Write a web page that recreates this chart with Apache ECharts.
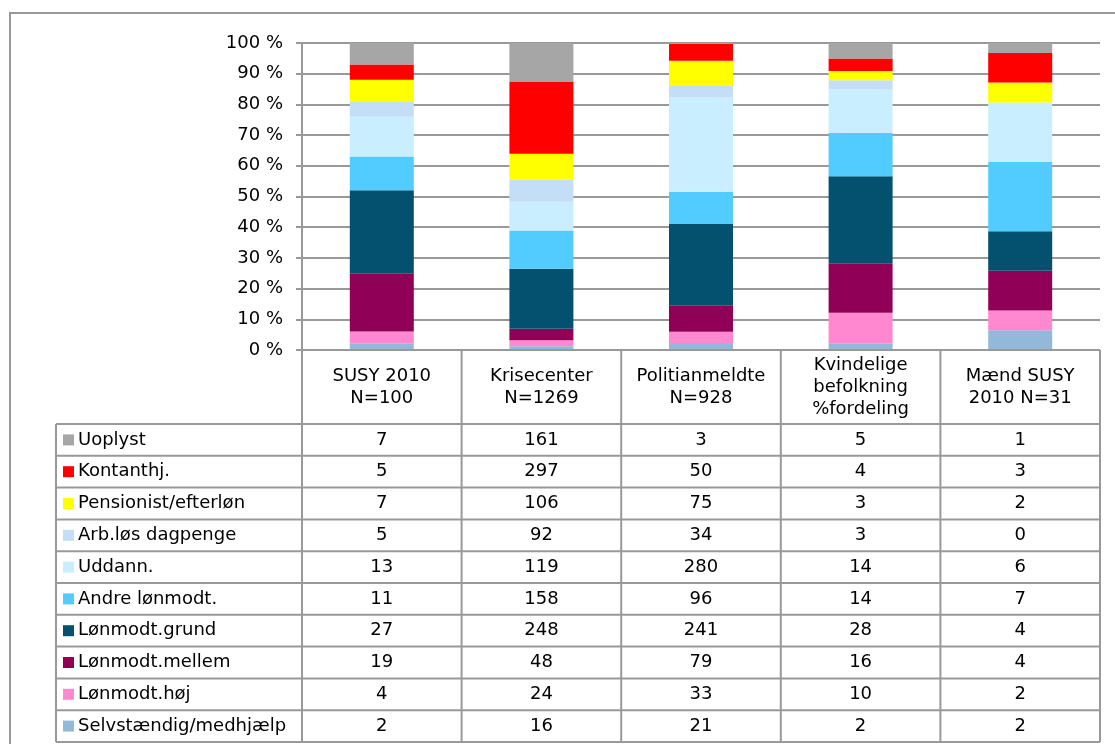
<!DOCTYPE html>
<html>
<head>
<meta charset="utf-8">
<script src="https://cdn.jsdelivr.net/npm/echarts@6/dist/echarts.min.js"></script>
<style>
  html, body { margin: 0; padding: 0; background: #fff; }
  #chart { width: 1115px; height: 744px; }
</style>
</head>
<body>
<div id="chart"></div>
<script>
// kategorier (kolonner)
const categories = ['SUSY 2010\nN=100', 'Krisecenter\nN=1269', 'Politianmeldte\nN=928', 'Kvindelige\nbefolkning\n%fordeling', 'Mænd SUSY\n2010 N=31']

// serier, nederst i stakken først
const seriesNames = ['Selvstændig/medhjælp', 'Lønmodt.høj', 'Lønmodt.mellem', 'Lønmodt.grund', 'Andre lønmodt.', 'Uddann.', 'Arb.løs dagpenge', 'Pensionist/efterløn', 'Kontanthj.', 'Uoplyst']
const seriesColors = ['#93b9da', '#ff88d1', '#910057', '#03506f', '#52ccff', '#c8eeff', '#c4def7', '#ffff00', '#ff0000', '#a6a6a6']

// antal pr. kolonne
const selvstaendig = [2, 16, 21, 2, 2]
const lonHoj = [4, 24, 33, 10, 2]
const lonMellem = [19, 48, 79, 16, 4]
const lonGrund = [27, 248, 241, 28, 4]
const andreLon = [11, 158, 96, 14, 7]
const uddann = [13, 119, 280, 14, 6]
const arbLos = [5, 92, 34, 3, 0]
const pensionist = [7, 106, 75, 3, 2]
const kontanthj = [5, 297, 50, 4, 3]
const uoplyst = [7, 161, 3, 5, 1]

const counts = [selvstaendig, lonHoj, lonMellem, lonGrund, andreLon, uddann, arbLos, pensionist, kontanthj, uoplyst]

const yTicks = [0, 10, 20, 30, 40, 50, 60, 70, 80, 90, 100]

// 100% stablet: andel af kolonnens total
const totals = categories.map((c, i) => counts.reduce((s, arr) => s + arr[i], 0))

const FONT = '"DejaVu Sans", Verdana, sans-serif'
const LINE = '#999'
const gridLeft = 302
const gridRight = 1100
const gridTop = 43
const axisY = 350
const tableTop = 424
const tableBottom = 742
const tableLeft = 56
const rowH = (tableBottom - tableTop) / seriesNames.length
const colW = (gridRight - gridLeft) / categories.length

const graphic = []
// ydre ramme
graphic.push({ type: 'rect', shape: { x: 10, y: 13, width: 1130, height: 760 }, style: { fill: 'none', stroke: LINE, lineWidth: 2 }, silent: true })

function line(x1, y1, x2, y2) {
  graphic.push({ type: 'line', shape: { x1, y1, x2, y2 }, style: { stroke: LINE, lineWidth: 2 }, z: 10, silent: true })
}

// tabel: lodrette linjer
line(tableLeft, tableTop, tableLeft, tableBottom)
for (let i = 0; i <= categories.length; i++) {
  const x = gridLeft + i * colW
  line(x, axisY, x, tableBottom)
}
// vandrette linjer
line(gridLeft, axisY, gridRight, axisY)
for (let r = 0; r <= seriesNames.length; r++) {
  const y = tableTop + r * rowH
  line(tableLeft, y, gridRight, y)
}

// kolonneoverskrifter
categories.forEach((c, i) => {
  graphic.push({
    type: 'text', x: gridLeft + (i + 0.5) * colW, y: (axisY + tableTop) / 2,
    style: { text: c, font: '18px ' + FONT, fill: '#000', align: 'center', verticalAlign: 'middle', lineHeight: 22 }
  })
})

// rækker: Uoplyst øverst
const rowOrder = seriesNames.map((n, i) => i).reverse()
rowOrder.forEach((si, r) => {
  const cy = tableTop + (r + 0.5) * rowH
  graphic.push({ type: 'rect', shape: { x: 63, y: cy - 5.5, width: 11, height: 11 }, style: { fill: seriesColors[si] } })
  graphic.push({
    type: 'text', x: 78, y: cy,
    style: { text: seriesNames[si], font: '18px ' + FONT, fill: '#000', align: 'left', verticalAlign: 'middle' }
  })
  counts[si].forEach((v, ci) => {
    graphic.push({
      type: 'text', x: gridLeft + (ci + 0.5) * colW, y: cy,
      style: { text: String(v), font: '18px ' + FONT, fill: '#000', align: 'center', verticalAlign: 'middle' }
    })
  })
})

const chart = echarts.init(document.getElementById('chart'))
chart.setOption({
  animation: false,
  backgroundColor: '#fff',
  grid: {
    left: gridLeft,
    right: 1115 - gridRight,
    top: gridTop,
    bottom: 744 - axisY
  },
  xAxis: {
    type: 'category',
    data: categories,
    axisLine: { show: false },
    axisTick: { show: false },
    axisLabel: { show: false }
  },
  yAxis: {
    type: 'value',
    min: yTicks[0],
    max: yTicks[yTicks.length - 1],
    interval: 10,
    axisLine: { show: true, lineStyle: { color: LINE, width: 2 } },
    axisTick: { show: true, length: 6, lineStyle: { color: LINE, width: 2 } },
    axisLabel: { formatter: '{value} %', fontSize: 18, fontFamily: FONT, color: '#000', margin: 19 },
    splitLine: { lineStyle: { color: LINE, width: 2 } }
  },
  series: seriesNames.map((name, si) => ({
    name,
    type: 'bar',
    stack: 'total',
    barWidth: 64,
    itemStyle: { color: seriesColors[si] },
    data: counts[si].map((v, ci) => v / totals[ci] * 100)
  })),
  graphic
})
</script>
</body>
</html>
